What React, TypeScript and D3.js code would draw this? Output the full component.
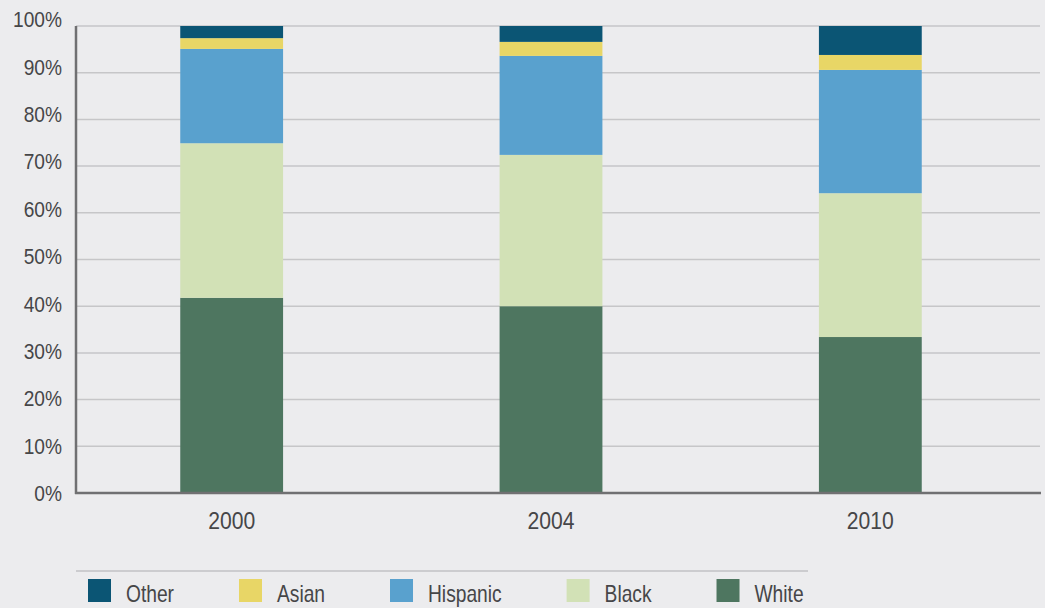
import { useEffect, useRef } from "react";
import * as d3 from "d3";

const years = ["2000", "2004", "2010"];
const groups = ["White", "Black", "Hispanic", "Asian", "Other"];
const white = [41.8, 40.0, 33.4];
const black = [33.1, 32.4, 30.8];
const hispanic = [20.2, 21.2, 26.4];
const asian = [2.3, 3.0, 3.2];
const other = [2.6, 3.4, 6.2];
const yTicks = [0, 10, 20, 30, 40, 50, 60, 70, 80, 90, 100];
const legendOrder = ["Other", "Asian", "Hispanic", "Black", "White"];

const colors: Record<string, string> = {
  White: "#4e7660",
  Black: "#d2e1b6",
  Hispanic: "#59a1ce",
  Asian: "#e8d666",
  Other: "#0b5574",
};

const W = 1045;
const H = 608;
const FONT = "'Liberation Sans', Arial, sans-serif";
const TEXT = "#464648";

export default function App() {
  const svgRef = useRef<SVGSVGElement | null>(null);

  useEffect(() => {
    document.body.style.margin = "0";
    if (!svgRef.current) return;
    const svg = d3.select(svgRef.current);
    svg.selectAll("*").remove();

    const left = 76;
    const top = 26;
    const bottom = 493;
    const gridRight = 1040;

    const rows = years.map((year, i) => ({
      year,
      White: white[i],
      Black: black[i],
      Hispanic: hispanic[i],
      Asian: asian[i],
      Other: other[i],
    }));

    const x = d3.scaleBand().domain(years).range([72, 1030]).paddingInner(0.678).paddingOuter(0.339);
    const y = d3.scaleLinear().domain([0, 100]).range([bottom, top]);
    // labels in the reference drift slightly above their gridlines toward the top
    const yLabel = d3.scaleLinear().domain([0, 100]).range([bottom, top - 7]);

    svg.append("rect").attr("width", W).attr("height", H).attr("fill", "#ececee");

    // grid
    svg.append("g")
      .selectAll("line")
      .data(yTicks.filter((t) => t > 0))
      .join("line")
      .attr("x1", left).attr("x2", gridRight)
      .attr("y1", (d) => y(d)).attr("y2", (d) => y(d))
      .attr("stroke", "#c6c6c8")
      .attr("stroke-width", 1.5);

    const stack = d3.stack<any>().keys(groups)(rows);
    svg.append("g")
      .selectAll("g")
      .data(stack)
      .join("g")
      .attr("fill", (s) => colors[s.key])
      .selectAll("rect")
      .data((s) => s)
      .join("rect")
      .attr("x", (d) => x(d.data.year)!)
      .attr("width", x.bandwidth())
      .attr("y", (d) => y(Math.min(d[1], 100)))
      .attr("height", (d) => y(d[0]) - y(Math.min(d[1], 100)));

    // axes lines
    svg.append("line")
      .attr("x1", left).attr("x2", left).attr("y1", top).attr("y2", bottom + 1)
      .attr("stroke", "#707072").attr("stroke-width", 2.5);
    svg.append("line")
      .attr("x1", left - 1).attr("x2", gridRight + 1).attr("y1", bottom).attr("y2", bottom)
      .attr("stroke", "#707072").attr("stroke-width", 2.5);

    // y labels (slightly condensed, like the original face)
    svg.append("g")
      .selectAll("text")
      .data(yTicks)
      .join("text")
      .attr("transform", (d) => `translate(62,${yLabel(d)}) scale(0.85,1)`)
      .attr("dy", "0.36em")
      .attr("text-anchor", "end")
      .attr("font-family", FONT)
      .attr("font-size", 22.5)
      .attr("fill", TEXT)
      .text((d) => `${d}%`);

    // x labels
    svg.append("g")
      .selectAll("text")
      .data(years)
      .join("text")
      .attr("transform", (d) => `translate(${x(d)! + x.bandwidth() / 2},529) scale(0.92,1)`)
      .attr("text-anchor", "middle")
      .attr("font-family", FONT)
      .attr("font-size", 23)
      .attr("fill", TEXT)
      .text((d) => d);

    // legend
    svg.append("line")
      .attr("x1", left).attr("x2", 808).attr("y1", 571).attr("y2", 571)
      .attr("stroke", "#c2c2c4").attr("stroke-width", 1.5);

    const legend = svg.append("g");
    const sx = 0.8;
    let lx = 88;
    legendOrder.forEach((name) => {
      legend.append("rect")
        .attr("x", lx).attr("y", 579).attr("width", 23).attr("height", 23)
        .attr("fill", colors[name]);
      const t = legend.append("text")
        .attr("transform", `translate(${lx + 38},602) scale(${sx},1)`)
        .attr("font-family", FONT)
        .attr("font-size", 24)
        .attr("fill", TEXT)
        .text(name);
      const len = (t.node() as SVGTextElement).getComputedTextLength() * sx;
      lx = lx + 38 + len + 65;
    });
  }, []);

  return <svg ref={svgRef} width={W} height={H} style={{ display: "block" }} />;
}
